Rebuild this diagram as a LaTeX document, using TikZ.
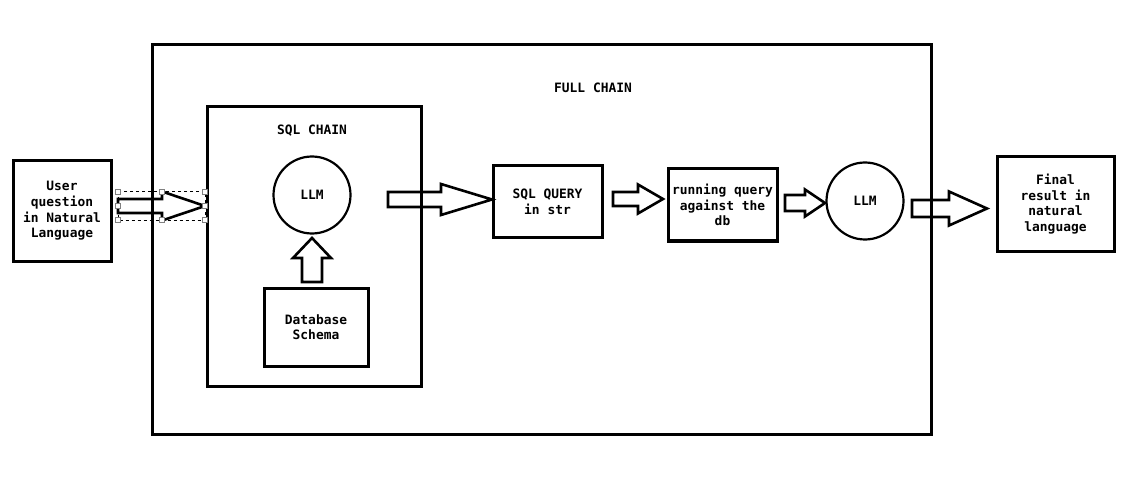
\documentclass[tikz,border=0pt]{standalone}
\usepackage{fontspec}
\setmonofont{DejaVu Sans Mono}
\usetikzlibrary{%
  calc,%
  shapes.geometric%
}
\tikzset{>=latex}
\tikzset{
  box/.style={draw, line width=3pt, align=center, inner sep=0pt},
  chainbox/.style={draw, line width=3pt, inner sep=0pt},
  llm/.style={draw, circle, line width=2.2pt, minimum size=77pt, inner sep=0pt},
  blockline/.style={line width=2.6pt, line join=miter},
  selbox/.style={draw=black, dashed, line width=0.6pt},
  handle/.style={draw=gray, fill=white, line width=0.8pt, minimum size=5pt, inner sep=0pt},
  every node/.style={font=\ttfamily\bfseries\fontsize{12.9}{15.6}\selectfont}
}
% block arrow: tail, tip, shaft half width, head half width, head length
\newcommand{\blockarrow}[5]{%
  \coordinate (hb) at ($#2!#5!#1$);
  \draw[blockline] ($#1!#3!90:#2$) -- ($(hb)!#3!90:#2$) -- ($(hb)!#4!90:#2$) -- #2
    -- ($(hb)!#4!-90:#2$) -- ($(hb)!#3!-90:#2$) -- ($#1!#3!-90:#2$) -- cycle;
}

\begin{document}
\begin{tikzpicture}[x=1pt,y=-1pt]
    \useasboundingbox (0,0) rectangle (1127,489);

    % outer chains
    \node[chainbox, minimum width=779pt, minimum height=389pt] (full) at (541.5,239.5) {};
    \node (fulllabel) at (593,88) {FULL CHAIN};
    \node[chainbox, minimum width=214pt, minimum height=279pt] (sqlchain) at (314,246.5) {};
    \node (sqllabel) at (312,131) {SQL CHAIN};

    % boxes
    \node[box, minimum width=98pt, minimum height=100pt] (user) at (62,211)
    {User\\question\\in Natural\\Language};
    \node[llm] (llm1) at (312,195) {LLM};
    \node[box, minimum width=104pt, minimum height=78pt] (schema) at (316,327)
    {Database\\Schema};
    \node[box, minimum width=109pt, minimum height=72pt] (sqlq) at (547.5,202)
    {SQL QUERY\\in str};
    \node[box, minimum width=109pt, minimum height=72pt] (run) at (722.5,205)
    {running query\\against the\\db};
    \node[llm] (llm2) at (865,201) {LLM};
    \node[box, minimum width=117pt, minimum height=94pt] (final) at (1055.5,204)
    {Final\\result in\\natural\\language};

    % arrow ends
    \coordinate (a1s) at (118,206);
    \coordinate (a1t) at (205,206);
    \coordinate (a2s) at (388,199.5);
    \coordinate (a2t) at (492,199.5);
    \coordinate (a3s) at (613,199);
    \coordinate (a3t) at (663,199);
    \coordinate (a4s) at (785,203);
    \coordinate (a4t) at (825,203);
    \coordinate (a5s) at (912,208.5);
    \coordinate (a5t) at (987,208.5);
    \coordinate (ups) at (312,282);
    \coordinate (upt) at (312,238);

    \blockarrow{(a1s)}{(a1t)}{7pt}{14.5pt}{43pt}
    \blockarrow{(a2s)}{(a2t)}{7.5pt}{15.5pt}{51pt}
    \blockarrow{(a3s)}{(a3t)}{7pt}{14.5pt}{25pt}
    \blockarrow{(a4s)}{(a4t)}{8pt}{13.5pt}{20pt}
    \blockarrow{(a5s)}{(a5t)}{8.5pt}{17pt}{38pt}
    \blockarrow{(ups)}{(upt)}{10pt}{19pt}{20pt}

    % selection frame round the first arrow
    \draw[selbox] (118,191.5) rectangle (205,220);
    \foreach \x/\y in {118/191.5,162/191.5,205/191.5,118/205.5,205/205.5,118/220,162/220,205/220}
      \node[handle] at (\x,\y) {};
\end{tikzpicture}
\end{document}
